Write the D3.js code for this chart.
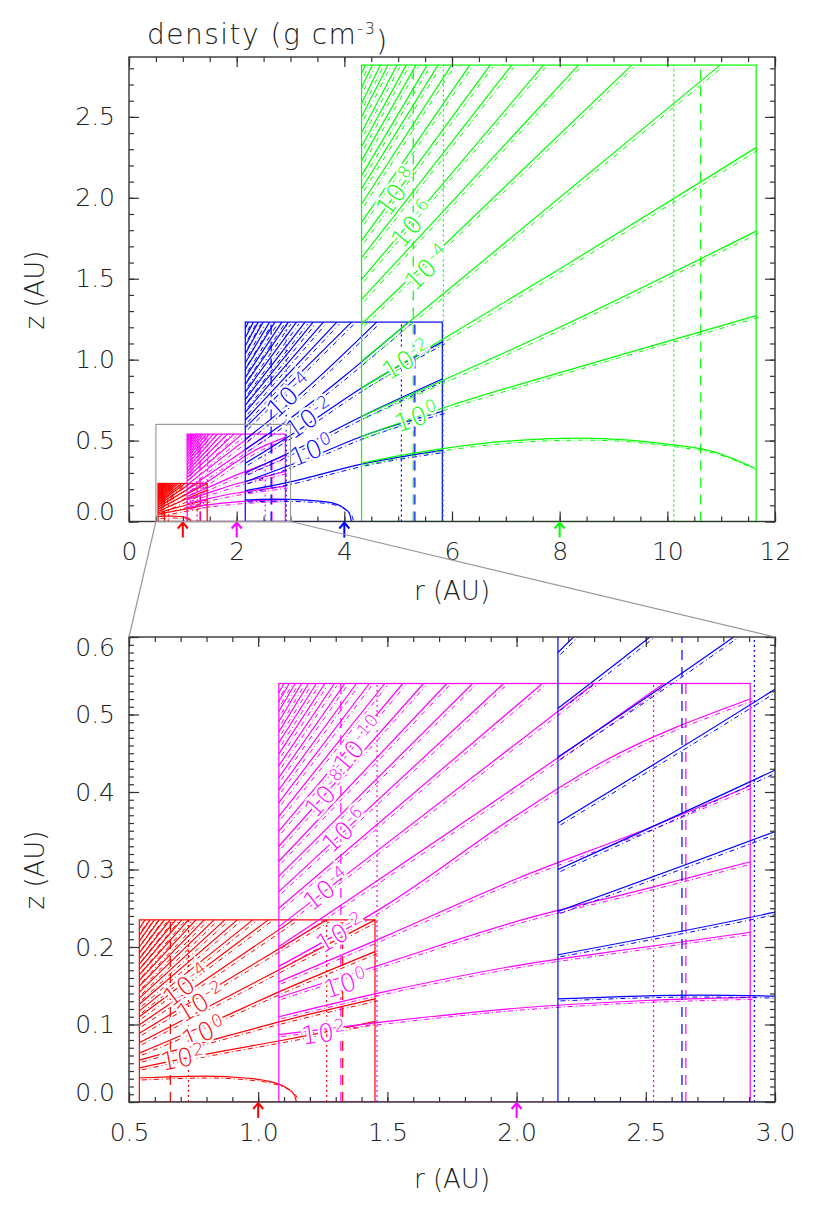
<!DOCTYPE html>
<html>
<head>
<meta charset="utf-8">
<script src="https://cdn.jsdelivr.net/npm/d3@7"></script>
<style>
body { margin: 0; background: #fff; }
text { font-family: "DejaVu Sans", sans-serif; font-weight: 200; fill: #222; }
</style>
</head>
<body>
<svg id="chart" width="830" height="1216"></svg>
<script>
// grids: red, magenta, blue, green (each twice the radius of the one before)
const gridColors = ["#ff0000", "#ff00ff", "#0000ff", "#00ff00"];
const gridR = [[0.54, 1.452], [1.08, 2.904], [2.16, 5.82], [4.32, 11.65]];
const gridZTop = [0.235, 0.54, 1.232, 2.82];
const gridCentre = [1, 2, 4, 8];
const gridDotted = [[0.73, 1.265], [1.46, 2.53], [2.92, 5.06], [5.84, 10.12]];
const gridDashed = [[0.66, 1.327], [1.32, 2.655], [2.64, 5.31], [5.28, 10.62]];

// density contours, [r, z] in AU
const redLines = [
  [[0.54,0.031],[0.65,0.0325],[0.8,0.0335],[0.95,0.031],[1.05,0.026],[1.11,0.018],[1.14,0.009],[1.148,0.0]],
  [[0.54,0.044],[0.71,0.056],[0.9,0.068],[1.1,0.08],[1.3,0.093],[1.452,0.104]],
  [[0.54,0.054],[0.8,0.078],[1.1,0.105],[1.452,0.133]],
  [[0.54,0.063],[0.8,0.1],[1.1,0.145],[1.452,0.194]],
  [[0.54,0.0765],[1.452,0.235]],
  [[0.54,0.0888],[1.265,0.235]],
  [[0.54,0.0998],[1.136,0.235]],
  [[0.54,0.1101],[1.039,0.235]],
  [[0.54,0.1176],[0.979,0.235]],
  [[0.54,0.1262],[0.919,0.235]],
  [[0.54,0.1341],[0.871,0.235]],
  [[0.54,0.1418],[0.829,0.235]],
  [[0.54,0.1496],[0.791,0.235]],
  [[0.54,0.1569],[0.759,0.235]],
  [[0.54,0.1641],[0.730,0.235]],
  [[0.54,0.1712],[0.704,0.235]],
  [[0.54,0.1780],[0.681,0.235]],
  [[0.54,0.1850],[0.659,0.235]],
  [[0.54,0.1925],[0.637,0.235]],
  [[0.54,0.2000],[0.617,0.235]],
  [[0.54,0.2076],[0.598,0.235]],
  [[0.54,0.2150],[0.581,0.235]],
  [[0.54,0.2238],[0.562,0.235]]
];
const magentaLines = [
  [[1.08,0.087],[1.5,0.104],[2.0,0.121],[2.5,0.131],[2.904,0.135]],
  [[1.08,0.11],[1.5,0.143],[2.0,0.176],[2.5,0.2],[2.904,0.219]],
  [[1.08,0.135],[1.5,0.18],[2.0,0.233],[2.5,0.275],[2.904,0.31]],
  [[1.08,0.155],[1.5,0.215],[2.0,0.288],[2.5,0.352],[2.904,0.408]],
  [[1.08,0.175],[1.5,0.255],[2.0,0.37],[2.323,0.437],[2.904,0.52]],
  [[1.08,0.2005],[2.323,0.482],[2.57,0.54]],
  [[1.08,0.2263],[2.30,0.54]],
  [[1.08,0.2501],[2.10,0.54]],
  [[1.08,0.2715],[1.95,0.54]],
  [[1.08,0.2915],[1.83,0.54]],
  [[1.08,0.3106],[1.73,0.54]],
  [[1.08,0.3300],[1.64,0.54]],
  [[1.08,0.3494],[1.56,0.54]],
  [[1.08,0.3684],[1.49,0.54]],
  [[1.08,0.3863],[1.43,0.54]],
  [[1.08,0.4027],[1.38,0.54]],
  [[1.08,0.4187],[1.335,0.54]],
  [[1.08,0.4340],[1.295,0.54]],
  [[1.08,0.4491],[1.258,0.54]],
  [[1.08,0.4636],[1.225,0.54]],
  [[1.08,0.4776],[1.195,0.54]],
  [[1.08,0.4909],[1.168,0.54]],
  [[1.08,0.5039],[1.143,0.54]],
  [[1.08,0.5165],[1.12,0.54]],
  [[1.08,0.5280],[1.10,0.54]]
];
const blueLines = [
  [[2.16,0.133],[2.7,0.138],[3.3,0.132],[3.73,0.118],[3.98,0.085],[4.1,0.045],[4.13,0.0]],
  [[2.16,0.19],[3.0,0.245],[4.32,0.355],[5.82,0.44]],
  [[2.16,0.246],[3.4,0.4],[4.32,0.525],[5.82,0.68]],
  [[2.16,0.3],[3.2,0.46],[4.32,0.649],[5.82,0.88]],
  [[2.16,0.36],[3.2,0.575],[4.32,0.825],[5.82,1.11]],
  [[2.16,0.445],[2.84,0.6],[5.19,1.232]],
  [[2.16,0.508],[2.516,0.6],[4.60,1.232]],
  [[2.16,0.580],[4.135,1.232]],
  [[2.16,0.627],[3.86,1.232]],
  [[2.16,0.675],[3.61,1.232]],
  [[2.16,0.718],[3.42,1.232]],
  [[2.16,0.755],[3.27,1.232]],
  [[2.16,0.800],[3.11,1.232]],
  [[2.16,0.847],[2.96,1.232]],
  [[2.16,0.889],[2.84,1.232]],
  [[2.16,0.939],[2.71,1.232]],
  [[2.16,0.981],[2.61,1.232]],
  [[2.16,1.037],[2.49,1.232]],
  [[2.16,1.084],[2.40,1.232]],
  [[2.16,1.135],[2.31,1.232]],
  [[2.16,1.193],[2.217,1.232]]
];
const greenLines = [
  [[4.32,0.36],[5.0,0.405],[6.5,0.48],[8.38,0.515],[10.1,0.474],[10.85,0.432],[11.62,0.33]],
  [[4.32,0.525],[6.0,0.72],[8.0,0.92],[11.65,1.272]],
  [[4.32,0.649],[8.0,1.2],[11.65,1.794]],
  [[4.32,0.825],[8.0,1.56],[11.65,2.31]],
  [[4.32,0.99],[10.98,2.82]],
  [[4.32,1.219],[9.34,2.82]],
  [[4.32,1.372],[8.35,2.82]],
  [[4.32,1.496],[7.70,2.82]],
  [[4.32,1.630],[7.11,2.82]],
  [[4.32,1.735],[6.71,2.82]],
  [[4.32,1.848],[6.33,2.82]],
  [[4.32,1.962],[5.99,2.82]],
  [[4.32,2.056],[5.74,2.82]],
  [[4.32,2.137],[5.54,2.82]],
  [[4.32,2.230],[5.33,2.82]],
  [[4.32,2.317],[5.15,2.82]],
  [[4.32,2.404],[4.98,2.82]],
  [[4.32,2.499],[4.81,2.82]],
  [[4.32,2.583],[4.67,2.82]],
  [[4.32,2.680],[4.52,2.82]],
  [[4.32,2.769],[4.39,2.82]]
];
const gridLines = [redLines, magentaLines, blueLines, greenLines];

// contour labels: grid index, exponent, position (AU)
const topContourLabels = [
  { grid: 2, exp: "-4", r: 2.99, z: 0.78 },
  { grid: 2, exp: "-2", r: 3.36, z: 0.64 },
  { grid: 2, exp: "0", r: 3.40, z: 0.44 },
  { grid: 3, exp: "-8", r: 4.98, z: 2.04 },
  { grid: 3, exp: "-6", r: 5.28, z: 1.84 },
  { grid: 3, exp: "-4", r: 5.55, z: 1.57 },
  { grid: 3, exp: "-2", r: 5.16, z: 1.00 },
  { grid: 3, exp: "0", r: 5.35, z: 0.646 }
];
const bottomContourLabels = [
  { grid: 1, exp: "-10", r: 1.39, z: 0.462 },
  { grid: 1, exp: "-8", r: 1.265, z: 0.398 },
  { grid: 1, exp: "-6", r: 1.336, z: 0.351 },
  { grid: 1, exp: "-4", r: 1.266, z: 0.275 },
  { grid: 1, exp: "-2", r: 1.32, z: 0.218 },
  { grid: 1, exp: "0", r: 1.34, z: 0.153 },
  { grid: 1, exp: "2", r: 1.255, z: 0.089 },
  { grid: 0, exp: "-4", r: 0.724, z: 0.151 },
  { grid: 0, exp: "-2", r: 0.78, z: 0.129 },
  { grid: 0, exp: "0", r: 0.79, z: 0.09 },
  { grid: 0, exp: "2", r: 0.71, z: 0.057 }
];

// axis ticks
const topXTicks = [0, 2, 4, 6, 8, 10, 12];
const topXTickLabels = ["0", "2", "4", "6", "8", "10", "12"];
const topYTicks = [0, 0.5, 1.0, 1.5, 2.0, 2.5];
const topYTickLabels = ["0.0", "0.5", "1.0", "1.5", "2.0", "2.5"];
const botXTicks = [0.5, 1.0, 1.5, 2.0, 2.5, 3.0];
const botXTickLabels = ["0.5", "1.0", "1.5", "2.0", "2.5", "3.0"];
const botYTicks = [0, 0.1, 0.2, 0.3, 0.4, 0.5, 0.6];
const botYTickLabels = ["0.0", "0.1", "0.2", "0.3", "0.4", "0.5", "0.6"];
const zoomBox = { r: [0.5, 3.0], z: [0, 0.6] };

const svg = d3.select("#chart");

const panels = [
  { id: "top", xDomain: [0, 12], yDomain: [0, 2.87], left: 129, right: 775, bottom: 521.5, top: 57,
    xTicks: topXTicks, xLabels: topXTickLabels, xMinor: 0.5,
    yTicks: topYTicks, yLabels: topYTickLabels, yMinor: 0.1,
    labels: topContourLabels, titleY: 600, zTitleY: 290 },
  { id: "bottom", xDomain: [0.5, 3.0], yDomain: [0, 0.6], left: 129, right: 775, bottom: 1102, top: 637,
    xTicks: botXTicks, xLabels: botXTickLabels, xMinor: 0.1,
    yTicks: botYTicks, yLabels: botYTickLabels, yMinor: 0.01,
    labels: bottomContourLabels, titleY: 1188, zTitleY: 870 }
];

function nearestAngle(lines, x, y, px, py) {
  let best = Infinity, ang = 0;
  lines.forEach(line => {
    for (let i = 0; i < line.length - 1; i++) {
      const ax = x(line[i][0]), ay = y(line[i][1]);
      const bx = x(line[i + 1][0]), by = y(line[i + 1][1]);
      const dx = bx - ax, dy = by - ay;
      let t = ((px - ax) * dx + (py - ay) * dy) / (dx * dx + dy * dy);
      t = Math.max(0, Math.min(1, t));
      const qx = ax + t * dx - px, qy = ay + t * dy - py;
      const d = qx * qx + qy * qy;
      if (d < best) { best = d; ang = Math.atan2(dy, dx) * 180 / Math.PI; }
    }
  });
  return ang;
}

const scales = {};

panels.forEach(p => {
  const x = d3.scaleLinear().domain(p.xDomain).range([p.left, p.right]);
  const y = d3.scaleLinear().domain(p.yDomain).range([p.bottom, p.top]);
  scales[p.id] = { x, y };

  svg.append("clipPath").attr("id", "clip-" + p.id)
    .append("rect")
    .attr("x", p.left).attr("y", p.top)
    .attr("width", p.right - p.left).attr("height", p.bottom - p.top);

  const plot = svg.append("g").attr("clip-path", `url(#clip-${p.id})`);
  const line = d3.line().x(d => x(d[0])).y(d => y(d[1])).curve(d3.curveMonotoneX);

  gridLines.forEach((lines, i) => {
    const col = gridColors[i];
    const g = plot.append("g");
    // grid outline
    g.append("rect")
      .attr("x", x(gridR[i][0])).attr("y", y(gridZTop[i]))
      .attr("width", x(gridR[i][1]) - x(gridR[i][0]))
      .attr("height", y(0) - y(gridZTop[i]))
      .attr("fill", "none").attr("stroke", col).attr("stroke-width", 1.2);
    // inner and outer boundary markers
    gridDotted[i].forEach(r => {
      g.append("line").attr("x1", x(r)).attr("x2", x(r)).attr("y1", y(0)).attr("y2", y(gridZTop[i]))
        .attr("stroke", col).attr("stroke-width", 1.2).attr("stroke-dasharray", "2,3");
    });
    gridDashed[i].forEach(r => {
      g.append("line").attr("x1", x(r)).attr("x2", x(r)).attr("y1", y(0)).attr("y2", y(gridZTop[i]))
        .attr("stroke", col).attr("stroke-width", 1.2).attr("stroke-dasharray", "10,7");
    });
    // reference (dash-dot) contours
    g.append("g").attr("transform", "translate(2.5,2)")
      .selectAll("path").data(lines).enter().append("path")
      .attr("d", line).attr("fill", "none").attr("stroke", col)
      .attr("stroke-width", 1).attr("stroke-dasharray", "5,3,1,3");
    // contours
    g.append("g").selectAll("path").data(lines).enter().append("path")
      .attr("d", line).attr("fill", "none").attr("stroke", col).attr("stroke-width", 1.2);
  });

  // contour labels
  p.labels.forEach(l => {
    const px = x(l.r), py = y(l.z);
    const ang = nearestAngle(gridLines[l.grid], x, y, px, py);
    const t = plot.append("text")
      .attr("transform", `translate(${px},${py}) rotate(${ang})`)
      .attr("text-anchor", "middle").attr("dy", "0.35em")
      .style("font-size", "25px").style("letter-spacing", "1px").style("fill", gridColors[l.grid])
      .style("stroke", "#fff").style("stroke-width", 5).style("paint-order", "stroke");
    t.append("tspan").text("10");
    t.append("tspan").attr("dy", "-0.5em").style("font-size", "17px").text(l.exp);
  });

  // axes: ticks point inwards on all four sides
  const tickStyle = g => {
    g.select(".domain").remove();
    g.selectAll("line").attr("stroke", "#333").attr("stroke-width", 1.2);
    g.selectAll("text").style("font-size", "25px").style("font-family", "DejaVu Sans, sans-serif")
      .style("font-weight", 200).attr("fill", "#222");
  };
  const xMinor = d3.range(p.xDomain[0], p.xDomain[1] + 1e-9, p.xMinor);
  const yMinor = d3.range(p.yDomain[0], p.yDomain[1] + 1e-9, p.yMinor);

  svg.append("g").attr("transform", `translate(0,${p.bottom})`)
    .call(d3.axisBottom(x).tickValues(xMinor).tickSize(-5).tickFormat("")).call(tickStyle);
  svg.append("g").attr("transform", `translate(0,${p.bottom})`)
    .call(d3.axisBottom(x).tickValues(p.xTicks).tickSize(-10).tickPadding(21)
      .tickFormat((d, i) => p.xLabels[i])).call(tickStyle);
  svg.append("g").attr("transform", `translate(0,${p.top})`)
    .call(d3.axisTop(x).tickValues(xMinor).tickSize(-5).tickFormat("")).call(tickStyle);
  svg.append("g").attr("transform", `translate(0,${p.top})`)
    .call(d3.axisTop(x).tickValues(p.xTicks).tickSize(-10).tickFormat("")).call(tickStyle);

  svg.append("g").attr("transform", `translate(${p.left},0)`)
    .call(d3.axisLeft(y).tickValues(yMinor).tickSize(-5).tickFormat("")).call(tickStyle);
  svg.append("g").attr("transform", `translate(${p.left},0)`)
    .call(d3.axisLeft(y).tickValues(p.yTicks).tickSize(-10).tickPadding(14)
      .tickFormat((d, i) => p.yLabels[i])).call(tickStyle)
    // labels at the ends of the axis sit just inside it
    .call(g => g.selectAll(".tick text").attr("y", d =>
      d === p.yDomain[0] ? -10 : (d === p.yDomain[1] ? 10 : 0)));
  svg.append("g").attr("transform", `translate(${p.right},0)`)
    .call(d3.axisRight(y).tickValues(yMinor).tickSize(-5).tickFormat("")).call(tickStyle);
  svg.append("g").attr("transform", `translate(${p.right},0)`)
    .call(d3.axisRight(y).tickValues(p.yTicks).tickSize(-10).tickFormat("")).call(tickStyle);

  svg.append("rect")
    .attr("x", p.left).attr("y", p.top)
    .attr("width", p.right - p.left).attr("height", p.bottom - p.top)
    .attr("fill", "none").attr("stroke", "#333").attr("stroke-width", 1.4);

  // arrows at the centre radius of each grid
  gridCentre.forEach((r, i) => {
    if (r < p.xDomain[0] || r > p.xDomain[1]) return;
    const ax = x(r), ay = p.bottom;
    svg.append("path")
      .attr("d", `M${ax},${ay + 16}L${ax},${ay + 1}M${ax - 5},${ay + 7}L${ax},${ay + 1}L${ax + 5},${ay + 7}`)
      .attr("fill", "none").attr("stroke", gridColors[i]).attr("stroke-width", 2);
  });

  // axis titles
  svg.append("text").attr("x", (p.left + p.right) / 2).attr("y", p.titleY)
    .attr("text-anchor", "middle").style("font-size", "26px").text("r  (AU)");
  svg.append("text")
    .attr("transform", `translate(44,${p.zTitleY}) rotate(-90)`)
    .attr("text-anchor", "middle").style("font-size", "26px").text("z  (AU)");
});

// title
const title = svg.append("text").attr("x", 147).attr("y", 44)
  .style("font-size", "28px").style("letter-spacing", "1.5px");
title.append("tspan").text("density  (g  cm");
title.append("tspan").attr("dy", "-0.6em").style("font-size", "16px").text("-3");
title.append("tspan").attr("dy", "0.6em").text(")");

// zoom box and connectors
const T = scales.top, B = scales.bottom;
svg.append("rect")
  .attr("x", T.x(zoomBox.r[0])).attr("y", T.y(zoomBox.z[1]))
  .attr("width", T.x(zoomBox.r[1]) - T.x(zoomBox.r[0]))
  .attr("height", T.y(zoomBox.z[0]) - T.y(zoomBox.z[1]))
  .attr("fill", "none").attr("stroke", "#999").attr("stroke-width", 1.2);
zoomBox.r.forEach(r => {
  svg.append("line")
    .attr("x1", T.x(r)).attr("y1", T.y(zoomBox.z[0]))
    .attr("x2", B.x(r)).attr("y2", B.y(zoomBox.z[1]))
    .attr("stroke", "#999").attr("stroke-width", 1.2);
});
</script>
</body>
</html>
